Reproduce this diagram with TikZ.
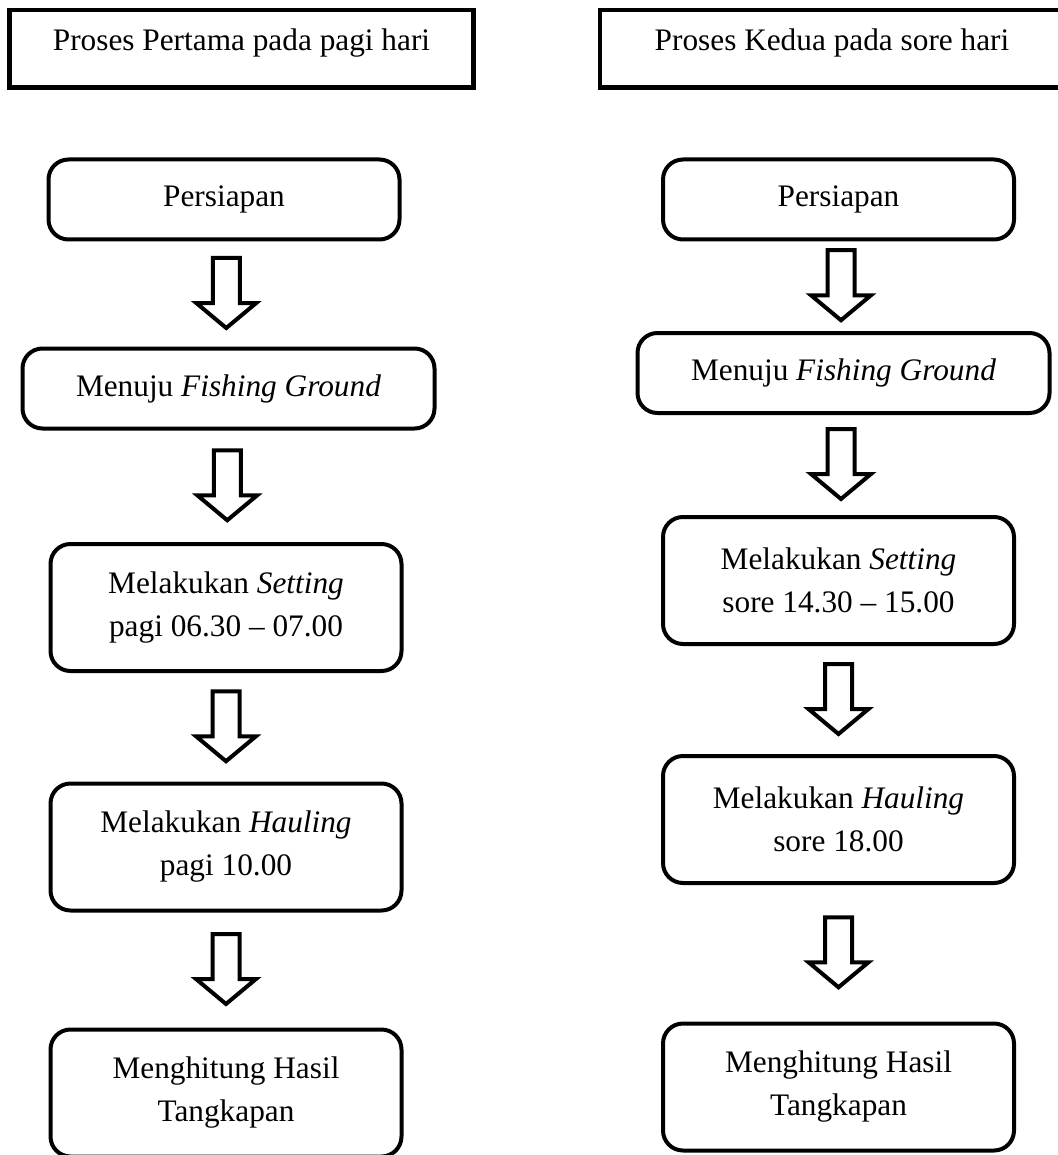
\documentclass[tikz,border=0pt]{standalone}
\usepackage{fontspec}
\setmainfont{Liberation Serif}
\usetikzlibrary{calc}

\tikzset{
  txt/.style={font=\fontsize{31.3pt}{43pt}\selectfont, align=center, inner sep=0pt},
  titlebox/.style={txt, draw, line width=4.5pt, minimum width=464pt, minimum height=77.5pt, text height=25pt, text depth=21pt},
  box/.style={txt, draw, line width=4pt, rounded corners=20pt, minimum width=351pt, minimum height=80pt},
  twoline/.style={box, minimum height=127pt},
  wide/.style={box, minimum width=412pt},
  flow/.style={draw, line width=4pt, fill=white, line join=miter,
    to path={($(\tikztostart.south)!0.5!(\tikztotarget.north)$) coordinate (mid)
      ($(mid)+(-13.5,-36)$) -- ++(27,0) -- ++(0,45) -- ++(16.5,0)
      -- ++(-30,25) -- ++(-30,-25) -- ++(16.5,0) -- cycle}}
}

\begin{document}
\begin{tikzpicture}[x=1pt, y=-1pt]
\useasboundingbox (0,0) rectangle (1057,1155);
%Left column:
\node (LT) [titlebox] at (241.5,49) {Proses Pertama pada pagi hari};
\node (LP) [box] at (224,199.5) {Persiapan};
\node (LM) [wide] at (228.5,388.5) {Menuju \textit{Fishing Ground}};
\node (LS) [twoline] at (226,607.5) {Melakukan \textit{Setting}\\pagi 06.30 -- 07.00};
\node (LH) [twoline] at (226,847) {Melakukan \textit{Hauling}\\pagi 10.00};
\node (LC) [twoline] at (226,1093) {Menghitung Hasil\\Tangkapan};
%Right column:
\node (RT) [titlebox] at (832,49) {Proses Kedua pada sore hari};
\node (RP) [box] at (838.5,199.5) {Persiapan};
\node (RM) [wide] at (843.5,373) {Menuju \textit{Fishing Ground}};
\node (RS) [twoline] at (838.5,580.5) {Melakukan \textit{Setting}\\sore 14.30 -- 15.00};
\node (RH) [twoline] at (838.5,819.5) {Melakukan \textit{Hauling}\\sore 18.00};
\node (RC) [twoline] at (838.5,1087) {Menghitung Hasil\\Tangkapan};
%Arrows:
\path
(LP) edge [flow] (LM)
(LM) edge [flow] (LS)
(LS) edge [flow] (LH)
(LH) edge [flow] (LC)
(RP) edge [flow] (RM)
(RM) edge [flow] (RS)
(RS) edge [flow] (RH)
(RH) edge [flow] (RC)
;
\end{tikzpicture}
\end{document}
